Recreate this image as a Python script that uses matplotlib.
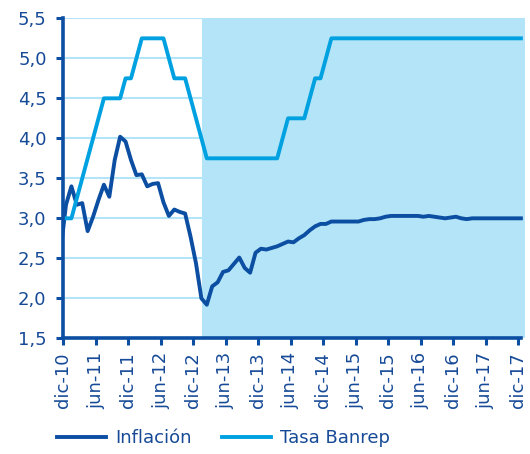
import numpy as np
import matplotlib
matplotlib.use("Agg")
import matplotlib.pyplot as plt
from matplotlib.ticker import FuncFormatter

# monthly data, nov-10 .. dic-17
inflacion = [2.59, 3.17, 3.40, 3.17, 3.19, 2.84, 3.02, 3.23, 3.42, 3.27, 3.73, 4.02, 3.96,
             3.73, 3.54, 3.55, 3.40, 3.43, 3.44, 3.20, 3.03, 3.11, 3.08, 3.06, 2.77, 2.44,
             2.00, 1.92, 2.15, 2.20, 2.33, 2.35, 2.43, 2.51, 2.38, 2.32, 2.57, 2.62,
             2.61, 2.63, 2.65, 2.68, 2.71, 2.70, 2.75, 2.79, 2.85, 2.90, 2.93, 2.93,
             2.96, 2.96, 2.96, 2.96, 2.96, 2.96, 2.98, 2.99, 2.99, 3.00, 3.02, 3.03,
             3.03, 3.03, 3.03, 3.03, 3.03, 3.02, 3.03, 3.02, 3.01, 3.00, 3.01, 3.02,
             3.00, 2.99, 3.00, 3.00, 3.00, 3.00, 3.00, 3.00, 3.00, 3.00, 3.00, 3.00]
tasa = [3.00, 3.00, 3.00, 3.25, 3.50, 3.75, 4.00, 4.25, 4.50, 4.50, 4.50, 4.50, 4.75,
        4.75, 5.00, 5.25, 5.25, 5.25, 5.25, 5.25, 5.00, 4.75, 4.75, 4.75, 4.50, 4.25,
        4.00, 3.75, 3.75, 3.75, 3.75, 3.75, 3.75, 3.75, 3.75, 3.75, 3.75, 3.75,
        3.75, 3.75, 3.75, 4.00, 4.25, 4.25, 4.25, 4.25, 4.50, 4.75, 4.75, 5.00] + [5.25] * 36
tick_labels = ["dic-10", "jun-11", "dic-11", "jun-12", "dic-12", "jun-13", "dic-13", "jun-14",
               "dic-14", "jun-15", "dic-15", "jun-16", "dic-16", "jun-17", "dic-17"]
forecast_start = 25.7  # shaded (projection) region begins here

dark = "#0b4ea2"
light = "#00a1e0"
shade = "#b4e4f7"
txt = "#164a97"

plt.rcParams["font.family"] = ["DejaVu Sans"]

fig = plt.figure(figsize=(5.3, 4.54), dpi=100)
ax = fig.add_axes([0.1194, 0.2548, 0.8716, 0.7048])

x = np.arange(len(inflacion)) - 0.5   # months centred between tick marks

for v in np.arange(2.0, 5.51, 0.5):
    ax.axhline(v, color=shade, lw=1.5, zorder=1)
ax.axvspan(forecast_start, 86, color=shade, lw=0, zorder=2)

l1, = ax.plot(x, inflacion, color=dark, lw=2.8, zorder=3, solid_joinstyle="round",
              label="Inflación")
l2, = ax.plot(x, tasa, color=light, lw=2.8, zorder=4, solid_joinstyle="round",
              label="Tasa Banrep")

ax.set_xlim(0, 85.3)
ax.set_ylim(1.5, 5.5)
ax.set_yticks(np.arange(1.5, 5.51, 0.5))
ax.yaxis.set_major_formatter(FuncFormatter(lambda v, p: f"{v:.1f}".replace(".", ",")))
ax.set_xticks(np.arange(0, 85, 6))
ax.set_xticklabels(tick_labels, rotation=90)

for s in ["top", "right"]:
    ax.spines[s].set_visible(False)
for s in ["left", "bottom"]:
    ax.spines[s].set_color(dark)
    ax.spines[s].set_linewidth(2.6)
    ax.spines[s].set_zorder(5)
ax.spines["bottom"].set_bounds(0, 84.6)

ax.tick_params(axis="y", colors=dark, labelcolor=txt, length=5, width=2.2,
               labelsize=13, pad=7)
ax.tick_params(axis="x", colors=dark, labelcolor=txt, length=5, width=2.2,
               labelsize=13, pad=5)

fig.legend(handles=[l1, l2], loc="center", bbox_to_anchor=(0.422, 0.035),
           ncol=2, frameon=False, fontsize=13, labelcolor=txt,
           handlelength=2.7, handletextpad=0.5, columnspacing=1.7)

fig.savefig("out.png", dpi=100)
